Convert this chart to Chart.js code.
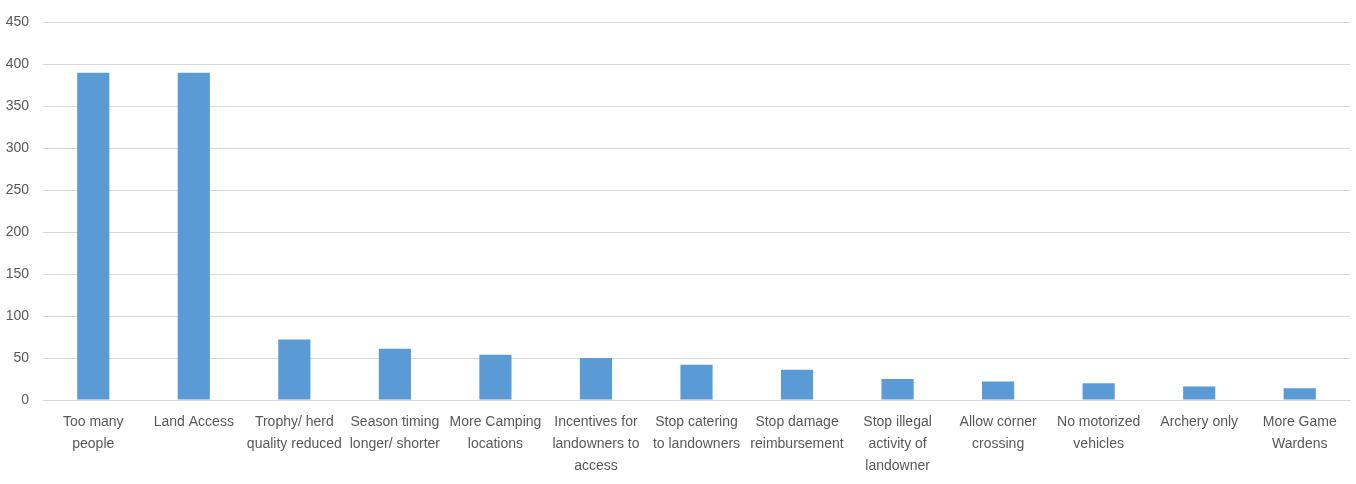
<!DOCTYPE html>
<html>
<head>
<meta charset="utf-8">
<script src="https://cdn.jsdelivr.net/npm/chart.js@4"></script>
<style>
  html, body { margin: 0; padding: 0; background: #fff; }
  #wrap { width: 1356px; height: 484px; }
</style>
</head>
<body>
<div id="wrap"><canvas id="issuesChart"></canvas></div>
<script>
const categories = [
  ['Too many', 'people'],
  'Land Access',
  ['Trophy/ herd', 'quality reduced'],
  ['Season timing', 'longer/ shorter'],
  ['More Camping', 'locations'],
  ['Incentives for', 'landowners to', 'access'],
  ['Stop catering', 'to landowners'],
  ['Stop damage', 'reimbursement'],
  ['Stop illegal', 'activity of', 'landowner'],
  ['Allow corner', 'crossing'],
  ['No motorized', 'vehicles'],
  'Archery only',
  ['More Game', 'Wardens']
];
const responses = [390, 390, 72, 61, 54, 50, 42, 36, 25, 22, 20, 16, 14];
const yTicks = [0, 50, 100, 150, 200, 250, 300, 350, 400, 450];

const labelFont = { family: "'Liberation Sans', sans-serif", size: 14, lineHeight: 1.57 };

document.addEventListener('DOMContentLoaded', () => {
  const ctx = document.getElementById('issuesChart').getContext('2d');
  new Chart(ctx, {
    type: 'bar',
    data: {
      labels: categories,
      datasets: [{
        data: responses,
        backgroundColor: '#5b9bd5',
        barPercentage: 0.32,
        categoryPercentage: 1.0
      }]
    },
    options: {
      responsive: true,
      maintainAspectRatio: false,
      animation: false,
      layout: { padding: { top: 22, left: 0, right: 6, bottom: 0 } },
      plugins: {
        legend: { display: false },
        title: { display: false },
        tooltip: { enabled: false }
      },
      scales: {
        x: {
          grid: { display: false, drawTicks: false },
          border: { display: true, color: '#d9d9d9', width: 1 },
          afterFit: axis => { axis.height = 84; },
          ticks: {
            color: '#595959',
            font: labelFont,
            padding: 11,
            maxRotation: 0,
            autoSkip: false
          }
        },
        y: {
          min: 0,
          max: 450,
          afterBuildTicks: axis => { axis.ticks = yTicks.map(v => ({ value: v })); },
          afterFit: axis => { axis.width = 43; },
          grid: { color: '#d9d9d9', drawTicks: false },
          border: { display: false },
          ticks: {
            color: '#595959',
            font: { family: labelFont.family, size: 14 },
            padding: 14
          }
        }
      }
    }
  });
});
</script>
</body>
</html>
